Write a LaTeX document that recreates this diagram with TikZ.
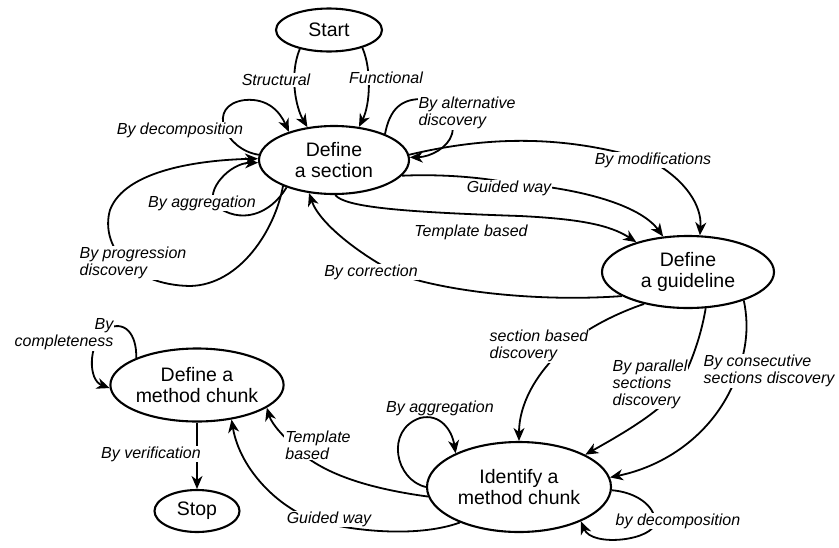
\documentclass[tikz,border=0pt]{standalone}
\usepackage{fontspec}
\setmainfont{Liberation Sans}
\usetikzlibrary{shapes.geometric,arrows.meta}

\begin{document}
\begin{tikzpicture}[x=1pt,y=-1pt,
  state/.style={ellipse,draw,line width=2.1pt,inner sep=0pt,align=center,font=\fontsize{19.5}{21}\selectfont},
  link/.style={line width=1.8pt,-{Stealth[length=13pt,width=11pt,inset=4pt]}},
  lbl/.style={fill=white,inner sep=1pt,align=left,font=\fontsize{16}{17}\selectfont\itshape}]
\useasboundingbox (0,0) rectangle (839,547);

\node[state,minimum width=106pt,minimum height=43pt] (st) at (329,30) {Start};
\node[state,minimum width=150pt,minimum height=68pt] (sec) at (334,160) {Define\\a section};
\node[state,minimum width=172pt,minimum height=72pt] (gdl) at (688,272) {Define\\a guideline};
\node[state,minimum width=167pt,minimum height=73pt] (chk) at (197,385) {Define a\\method chunk};
\node[state,minimum width=85pt,minimum height=42pt] (stp) at (197,511) {Stop};
\node[state,minimum width=184pt,minimum height=90pt] (idf) at (519,487) {Identify a\\method chunk};

\draw[link] (st.213) .. controls (289,75) and (296,108) .. (sec.129);
\draw[link] (st.332) .. controls (372,70) and (370,105) .. (sec.53);
\draw[link] (sec.176) .. controls (225,150) and (205,105) .. (245,100) .. controls (268,98) and (280,112) .. (sec.148);
\draw[link] (sec.207) .. controls (275,230) and (240,285) .. (190,286) .. controls (130,285) and (100,245) .. (110,210) .. controls (125,170) and (200,160) .. (sec.179);
\draw[link] (sec.210) .. controls (270,215) and (240,225) .. (215,205) .. controls (205,190) and (230,163) .. (sec.182);
\draw[link] (sec.27) .. controls (390,108) and (402,99) .. (422,99) .. controls (445,99) and (456,118) .. (452,134) .. controls (448,148) and (430,157) .. (sec.2);
\draw[link] (sec.4) .. controls (480,138) and (560,132) .. (653,162) .. controls (685,180) and (702,205) .. (gdl.72);
\draw[link] (sec.347) .. controls (440,174) and (480,177) .. (510,183) .. controls (580,188) and (640,205) .. (gdl.125);
\draw[link] (sec.272) .. controls (345,207) and (400,212) .. (520,216) .. controls (580,219) and (610,225) .. (gdl.150);
\draw[link] (gdl.200) .. controls (540,302) and (450,292) .. (400,275) .. controls (365,258) and (320,225) .. (sec.233);
\draw[link] (gdl.216) .. controls (620,312) and (585,328) .. (562,350) .. controls (535,375) and (519,405) .. (idf.90);
\draw[link] (gdl.296) .. controls (702,330) and (695,355) .. (680,385) .. controls (665,410) and (620,435) .. (idf.26);
\draw[link] (gdl.333) .. controls (750,330) and (745,355) .. (735,380) .. controls (715,430) and (670,465) .. (idf.6);
\draw[link] (idf.180) .. controls (395,480) and (385,430) .. (420,418) .. controls (440,413) and (452,430) .. (idf.152);
\draw[link] (idf.358) .. controls (635,492) and (655,505) .. (655,522) .. controls (655,540) and (592,548) .. (idf.331);
\draw[link] (idf.186) .. controls (380,490) and (330,478) .. (300,452) .. controls (285,438) and (272,425) .. (chk.342);
\draw[link] (idf.211) .. controls (420,537) and (360,532) .. (320,522) .. controls (280,510) and (240,470) .. (chk.315);
\draw[link] (chk.156) .. controls (137,335) and (125,318) .. (105,330) .. controls (88,345) and (88,380) .. (chk.182);
\draw[link] (chk.south) -- (stp.north);

\node[lbl] (lstruct) at (276,80) {Structural};
\node[lbl] (lfunc) at (386,78) {Functional};
\node[lbl] (lalt) at (467,113) {By alternative\\discovery};
\node[lbl] (ldecomp) at (180,130) {By decomposition};
\node[lbl] (laggr) at (202,203) {By aggregation};
\node[lbl] (lprog) at (133,263) {By progression\\discovery};
\node[lbl] (lmod) at (653,160) {By modifications};
\node[lbl] (lguide) at (509,188) {Guided way};
\node[lbl] (ltempl) at (471,232) {Template based};
\node[lbl] (lcorr) at (371,272) {By correction};
\node[lbl] (lsecdisc) at (539,346) {section based\\discovery};
\node[lbl] (lpar) at (650,384) {By parallel\\sections\\discovery};
\node[lbl] (lcons) at (769,371) {By consecutive\\sections discovery};
\node[lbl] (laggr2) at (440,408) {By aggregation};
\node[lbl] (ldecomp2) at (678,521) {by decomposition};
\node[lbl] (ltempl2) at (318,445) {Template\\based};
\node[lbl] (lguide2) at (329,519) {Guided way};
\node[lbl,align=right] (lcompl) at (64,334) {By\\completeness};
\node[lbl] (lverif) at (151,454) {By verification};
\end{tikzpicture}
\end{document}
